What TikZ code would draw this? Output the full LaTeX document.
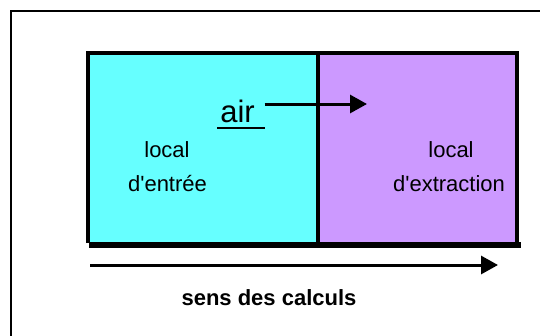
\documentclass[tikz,border=0pt]{standalone}
\usepackage{fontspec}
\setmainfont{Liberation Sans}
\usetikzlibrary{arrows.meta}
\definecolor{entree}{HTML}{66FFFF}
\definecolor{extraction}{HTML}{CC99FF}
\tikzset{
  lbl/.style={anchor=base, inner sep=0pt, font=\fontsize{22}{26}\selectfont},
  flow/.style={line width=3pt, -{Triangle[length=17pt,width=18pt]}},
}
\begin{document}
\begin{tikzpicture}[x=1pt,y=-1pt]
\useasboundingbox (0,0) rectangle (540,335);
\fill[white] (0,0) rectangle (540,335);
% outer frame (cut at right and bottom)
\draw[line width=2pt] (11,340) -- (11,11) -- (545,11);
% rooms
\fill[entree] (87.5,52.5) rectangle (318,243);
\fill[extraction] (318,52.5) rectangle (516.5,243);
\draw[line width=4pt] (87.5,243) -- (87.5,52.5) -- (516.5,52.5) -- (516.5,243);
\draw[line width=4pt] (318,52.5) -- (318,243);
\draw[line width=5.5pt] (89,245) -- (521,245);
% labels
\node[lbl] (l1) at (167,157) {local};
\node[lbl] (l2) at (167.5,191) {d\textquotesingle entrée};
\node[lbl] (r1) at (451,157) {local};
\node[lbl] (r2) at (449,191) {d\textquotesingle extraction};
\node[anchor=base, inner sep=0pt, font=\fontsize{31}{36}\selectfont] (air) at (237.5,122) {air};
\coordinate (ul1) at (217,128);
\coordinate (ul2) at (265,128);
\draw[line width=2pt] (ul1) -- (ul2);
\coordinate (a1) at (264.5,104);
\coordinate (a2) at (367,104);
\draw[flow] (a1) -- (a2);
% calculation direction
\coordinate (b1) at (90,265);
\coordinate (b2) at (498,265);
\draw[flow] (b1) -- (b2);
\node[anchor=base, inner sep=0pt, font=\bfseries\fontsize{22}{26}\selectfont] (sens) at (269,305) {sens des calculs};
\end{tikzpicture}
\end{document}
